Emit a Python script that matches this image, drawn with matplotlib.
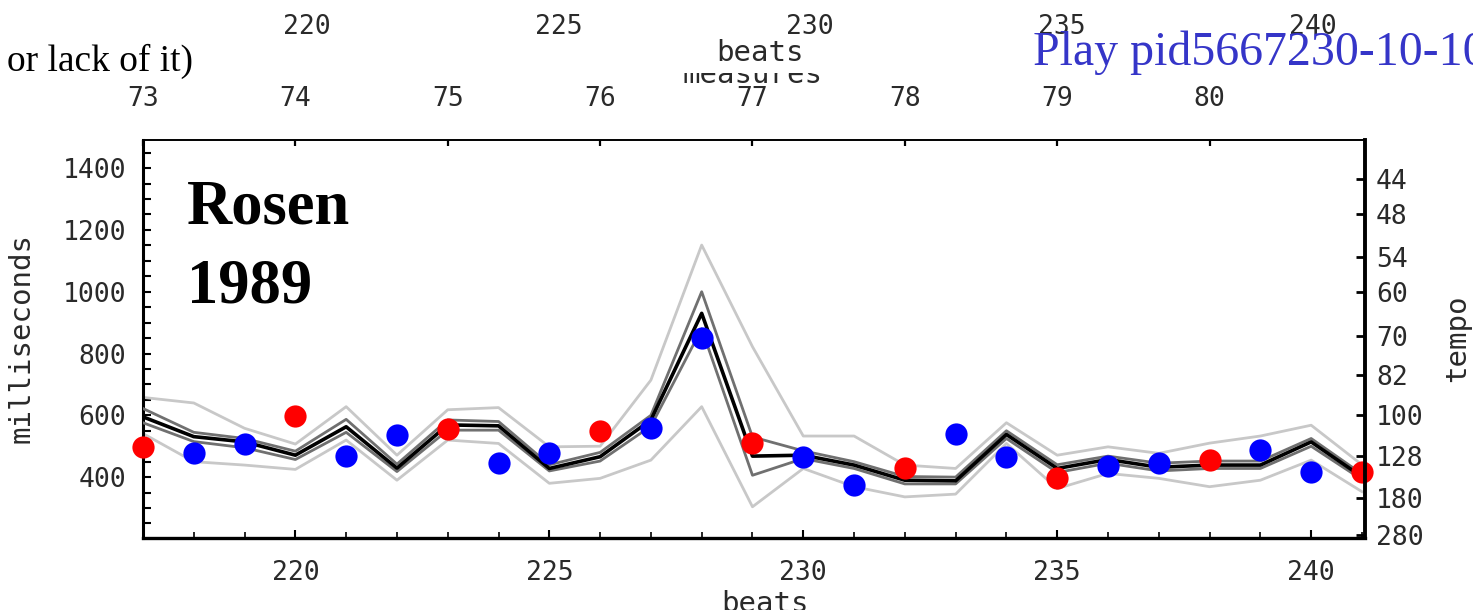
import matplotlib
matplotlib.use('Agg')
import matplotlib.pyplot as plt
from matplotlib.patches import Rectangle

W, H = 1473, 610

# beat-by-beat data (milliseconds)
beats = list(range(217, 242))
mean_ms = [595, 531, 514, 471, 563, 429, 569, 566, 428, 466, 585, 930, 468,
           471, 439, 390, 388, 538, 428, 457, 432, 439, 439, 514, 401]
dark_hi = [622, 545, 525, 484, 587, 442, 585, 580, 440, 480, 600, 1000, 530,
           485, 450, 402, 400, 550, 440, 468, 445, 452, 452, 525, 410]
dark_lo = [576, 515, 495, 457, 545, 418, 552, 552, 420, 452, 565, 880, 406,
           460, 428, 378, 378, 525, 415, 445, 420, 428, 428, 500, 392]
light_hi = [658, 640, 558, 507, 628, 471, 618, 625, 498, 500, 714, 1151, 822,
            533, 533, 439, 428, 576, 471, 498, 477, 510, 533, 568, 440]
light_lo = [541, 450, 439, 425, 520, 390, 520, 509, 380, 396, 455, 628, 304,
            428, 369, 336, 345, 509, 363, 412, 396, 369, 390, 455, 353]

red_beats = [217, 220, 223, 226, 229, 232, 235, 238, 241]
red_ms = [498, 597, 556, 549, 509, 428, 396, 457, 417]
blue_beats = [218, 219, 221, 222, 224, 225, 227, 228, 230, 231, 233, 234,
              236, 237, 239, 240]
blue_ms = [477, 507, 468, 536, 446, 477, 558, 849, 466, 376, 538, 466,
           437, 446, 487, 417]

tempo_ticks = [44, 48, 54, 60, 70, 82, 100, 128, 180, 280]
ms_ticks = [400, 600, 800, 1000, 1200, 1400]
beat_ticks = [220, 225, 230, 235, 240]
measures = [73, 74, 75, 76, 77, 78, 79, 80]
measure_beats = [217 + 3 * (m - 73) for m in measures]
top_beats = [220, 225, 230, 235, 240]

MONO = 'DejaVu Sans Mono'
SERIF = 'Liberation Serif'
TXT = '#2a2a2a'


def fx(px):
    return px / W


def fy(py):
    return 1 - py / H


fig = plt.figure(figsize=(W / 100, H / 100), dpi=100)

ax = fig.add_axes([fx(143), fy(538), (1365 - 143) / W, (538 - 140) / H])
ax.plot(beats, light_hi, color='#c8c8c8', lw=2.0, zorder=2)
ax.plot(beats, light_lo, color='#c8c8c8', lw=2.0, zorder=2)
ax.plot(beats, dark_hi, color='#707070', lw=2.0, zorder=3)
ax.plot(beats, dark_lo, color='#707070', lw=2.0, zorder=3)
ax.plot(beats, mean_ms, color='black', lw=2.6, zorder=4)
ax.plot(red_beats, red_ms, 'o', color='#ff0000', ms=16, mec='none',
        clip_on=False, zorder=10)
ax.plot(blue_beats, blue_ms, 'o', color='#0000ff', ms=16, mec='none',
        clip_on=False, zorder=10)

ax.set_xlim(217, 241.06)
ax.set_ylim(203, 1491)
ax.set_yticks(ms_ticks)
ax.set_yticks(range(250, 1491, 50), minor=True)
ax.set_xticks(beat_ticks)
ax.set_xticks(beats, minor=True)
ax.tick_params(axis='y', which='both', direction='in', length=6, width=1.5,
               pad=12, labelsize=19, labelcolor=TXT)
ax.tick_params(axis='x', which='major', direction='in', length=6, width=1.5,
               pad=16, labelsize=19, labelcolor=TXT)
ax.tick_params(axis='x', which='minor', direction='in', length=4, width=1.2)
for lab in ax.get_xticklabels() + ax.get_yticklabels():
    lab.set_family(MONO)
ax.spines['left'].set_linewidth(2.2)
ax.spines['bottom'].set_linewidth(2.4)
ax.spines['top'].set_visible(False)
ax.spines['right'].set_visible(False)

# right tempo axis
axr = ax.twinx()
axr.set_ylim(ax.get_ylim())
axr.set_yticks([60000 / t for t in tempo_ticks])
axr.set_yticklabels([str(t) for t in tempo_ticks], family=MONO, color=TXT)
axr.tick_params(axis='y', direction='in', length=6.5, width=2, pad=8,
                labelsize=19)
for s in ['left', 'top', 'bottom']:
    axr.spines[s].set_visible(False)
axr.spines['right'].set_linewidth(2.8)

# top measures axis
axt = ax.twiny()
axt.set_xlim(ax.get_xlim())
axt.set_xticks(measure_beats)
axt.set_xticklabels([str(m) for m in measures], family=MONO, color=TXT)
axt.tick_params(axis='x', direction='in', length=4.5, width=1.6, pad=20,
                labelsize=19)
for s in ['left', 'right', 'bottom']:
    axt.spines[s].set_visible(False)
axt.spines['top'].set_linewidth(1.4)

# beat numbers of the chart above (cut off at the top)
b_per_px = 5 / 251.5
axb = fig.add_axes([0, fy(14), 1, 0.0005])
axb.set_xlim(220 - 307 * b_per_px, 220 + (W - 307) * b_per_px)
axb.set_xticks(top_beats)
axb.set_xticklabels([str(b) for b in top_beats], family=MONO, color=TXT)
axb.set_yticks([])
axb.tick_params(axis='x', length=0, pad=0, labelsize=19)
for s in axb.spines.values():
    s.set_visible(False)
axb.patch.set_alpha(0)

# axis titles
fig.text(fx(22), fy(338), 'milliseconds', rotation=90, ha='center',
         va='center', family=MONO, fontsize=21, color=TXT)
fig.text(fx(1457), fy(338), 'tempo', rotation=90, ha='center', va='center',
         family=MONO, fontsize=21, color=TXT)
fig.text(fx(765), fy(590), 'beats', ha='center', va='top', family=MONO,
         fontsize=21, color=TXT)
fig.text(fx(752), fy(83), 'measures', ha='center', va='baseline',
         family=MONO, fontsize=21, color=TXT, zorder=1)
fig.patches.append(Rectangle((fx(640), fy(73)), (880 - 640) / W, 35 / H,
                             transform=fig.transFigure, facecolor='white',
                             edgecolor='none', zorder=2))
fig.text(fx(760), fy(61), 'beats', ha='center', va='baseline', family=MONO,
         fontsize=21, color=TXT, zorder=3)

# page text around the image
fig.text(fx(7), fy(71), 'or lack of it)', ha='left', va='baseline',
         family=SERIF, fontsize=27, color='black')
fig.text(fx(1033), fy(65), 'Play pid5667230-10-10', ha='left',
         va='baseline', family=SERIF, fontsize=34.5, color='#3535c8', zorder=5)

# big label inside the plot
fig.text(fx(187), fy(223), 'Rosen', ha='left', va='baseline', family=SERIF,
         fontweight='bold', fontsize=45, color='black', zorder=6)
fig.text(fx(187), fy(302), '1989', ha='left', va='baseline', family=SERIF,
         fontweight='bold', fontsize=45, color='black', zorder=6)

fig.savefig('out.png', dpi=100)
